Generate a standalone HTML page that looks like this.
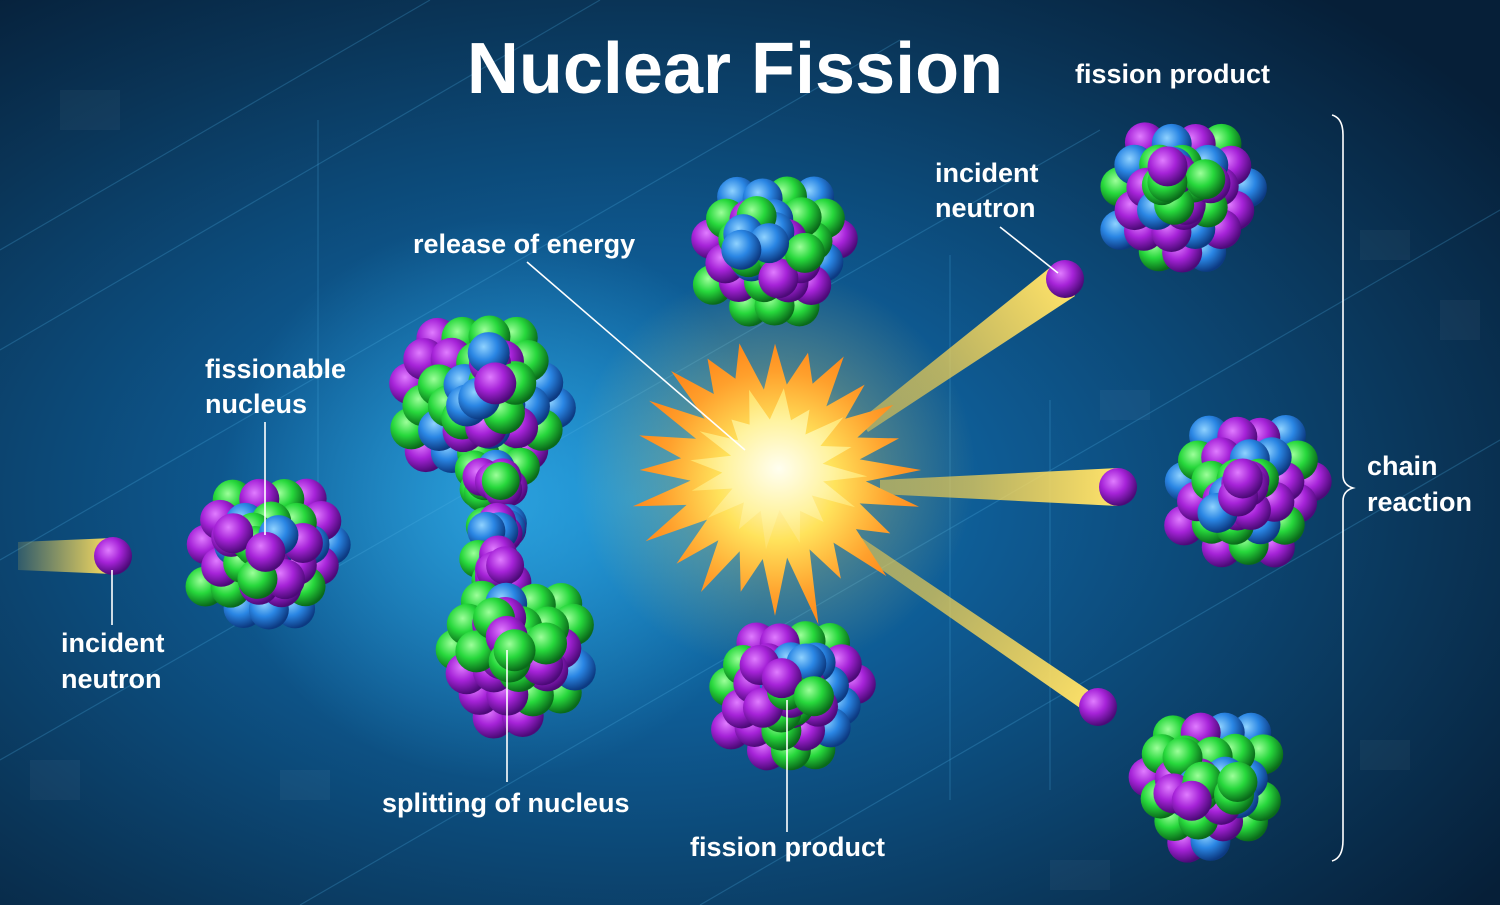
<!DOCTYPE html>
<html><head><meta charset="utf-8"><style>
html,body{margin:0;padding:0;background:#0a2a48;}
svg{display:block}
text{font-family:"Liberation Sans",sans-serif;font-weight:bold;fill:#fff}
</style></head><body>
<svg id="s" width="1500" height="905" viewBox="0 0 1500 905" xmlns="http://www.w3.org/2000/svg">
<defs>
<radialGradient id="bg" cx="0.42" cy="0.55" r="0.72">
<stop offset="0" stop-color="#1380c2"/><stop offset="0.35" stop-color="#0e5a92"/><stop offset="0.75" stop-color="#0a3558"/><stop offset="1" stop-color="#061f38"/></radialGradient>
<radialGradient id="pu" cx="0.38" cy="0.35" r="0.65"><stop offset="0" stop-color="#e07cff"/><stop offset="0.5" stop-color="#a623d8"/><stop offset="1" stop-color="#4c0a78"/></radialGradient>
<radialGradient id="gr" cx="0.38" cy="0.35" r="0.65"><stop offset="0" stop-color="#9dff9a"/><stop offset="0.5" stop-color="#27d83c"/><stop offset="1" stop-color="#0a6a1a"/></radialGradient>
<radialGradient id="bl" cx="0.38" cy="0.35" r="0.65"><stop offset="0" stop-color="#8fd2ff"/><stop offset="0.5" stop-color="#2a86e4"/><stop offset="1" stop-color="#0c3a82"/></radialGradient>
<radialGradient id="glow" cx="0.5" cy="0.5" r="0.5"><stop offset="0" stop-color="#3fc4ff" stop-opacity="0.55"/><stop offset="1" stop-color="#3fc4ff" stop-opacity="0"/></radialGradient>
<radialGradient id="ex" cx="0.5" cy="0.5" r="0.5"><stop offset="0" stop-color="#fffbe0"/><stop offset="0.4" stop-color="#ffe35c"/><stop offset="0.8" stop-color="#ffa02c"/><stop offset="1" stop-color="#ff8a1c"/></radialGradient>
<radialGradient id="ex2" cx="0.5" cy="0.5" r="0.5"><stop offset="0" stop-color="#fffef0"/><stop offset="0.6" stop-color="#fff3a0"/><stop offset="1" stop-color="#ffe066"/></radialGradient>
<radialGradient id="exglow" cx="0.5" cy="0.5" r="0.5"><stop offset="0" stop-color="#fff3a0" stop-opacity="0.8"/><stop offset="0.5" stop-color="#ffd050" stop-opacity="0.25"/><stop offset="1" stop-color="#ffd050" stop-opacity="0"/></radialGradient>
<linearGradient id="beamL" x1="0" x2="1"><stop offset="0" stop-color="#ffd84a" stop-opacity="0.15"/><stop offset="1" stop-color="#ffe060"/></linearGradient>
<linearGradient id="b1" gradientUnits="userSpaceOnUse" x1="860" y1="420" x2="1065" y2="279"><stop offset="0" stop-color="#ffd040" stop-opacity="0.5"/><stop offset="1" stop-color="#ffe36a"/></linearGradient>
<linearGradient id="b2" gradientUnits="userSpaceOnUse" x1="880" y1="487" x2="1118" y2="487"><stop offset="0" stop-color="#ffd040" stop-opacity="0.5"/><stop offset="1" stop-color="#ffe36a"/></linearGradient>
<linearGradient id="b3" gradientUnits="userSpaceOnUse" x1="850" y1="540" x2="1098" y2="707"><stop offset="0" stop-color="#ffd040" stop-opacity="0.5"/><stop offset="1" stop-color="#ffe36a"/></linearGradient>
</defs>
<rect width="1500" height="905" fill="url(#bg)"/>
<g fill="#ffffff" opacity="0.04">
<rect x="60" y="90" width="60" height="40"/><rect x="1360" y="230" width="50" height="30"/><rect x="1440" y="300" width="40" height="40"/><rect x="1100" y="390" width="50" height="30"/><rect x="1360" y="740" width="50" height="30"/><rect x="280" y="770" width="50" height="30"/><rect x="1050" y="860" width="60" height="30"/><rect x="30" y="760" width="50" height="40"/>
</g>
<circle cx="500" cy="500" r="280" fill="url(#glow)"/>
<g stroke="#4fb3e8" stroke-opacity="0.25" stroke-width="1.2">
<line x1="0" y1="350" x2="600" y2="0"/><line x1="0" y1="560" x2="900" y2="40"/><line x1="0" y1="760" x2="1100" y2="130"/>
<line x1="300" y1="905" x2="1500" y2="210"/><line x1="700" y1="905" x2="1500" y2="440"/><line x1="0" y1="250" x2="430" y2="0"/>
<polyline points="318,120 318,520" fill="none"/><polyline points="950,255 950,800" fill="none"/><polyline points="1050,400 1050,790" fill="none"/>
</g>
<g>
<polygon points="18,542 113,538 113,574 18,570" fill="url(#beamL)"/>
<polygon points="860,420 1052,266 1075,296 868,432" fill="url(#b1)"/>
<polygon points="880,480 1118,468 1118,506 880,494" fill="url(#b2)"/>
<polygon points="850,530 1088,690 1103,724 842,542" fill="url(#b3)"/>
</g>
<circle cx="775" cy="470" r="200" fill="url(#exglow)"/>
<polygon id="star" fill="url(#ex)"/>
<polygon id="star2" fill="url(#ex2)"/>
<g id="atoms"></g>
<g stroke="#fff" stroke-width="1.6" fill="none">
<line x1="265" y1="422" x2="265" y2="535"/>
<line x1="112" y1="570" x2="112" y2="625"/>
<line x1="527" y1="262" x2="745" y2="450"/>
<line x1="1000" y1="227" x2="1058" y2="273"/>
<line x1="507" y1="650" x2="507" y2="782"/>
<line x1="787" y1="700" x2="787" y2="832"/>
<path d="M1332,115 Q1343,118 1343,135 L1343,475 Q1343,485 1353,488 Q1343,491 1343,501 L1343,840 Q1343,858 1332,861"/>
</g>
<text x="735" y="93" font-size="72" text-anchor="middle">Nuclear Fission</text>
<g font-size="27">
<text x="1075" y="83">fission product</text>
<text x="935" y="182">incident</text><text x="935" y="217">neutron</text>
<text x="413" y="253">release of energy</text>
<text x="205" y="378">fissionable</text><text x="205" y="413">nucleus</text>
<text x="61" y="652">incident</text><text x="61" y="688">neutron</text>
<text x="382" y="812">splitting of nucleus</text>
<text x="690" y="856">fission product</text>
<text x="1367" y="475">chain</text><text x="1367" y="511">reaction</text>
</g>
</svg>
<script>
(function(){
var ns="http://www.w3.org/2000/svg";
var seed=11;function rnd(){seed=(seed*16807)%2147483647;return seed/2147483647;}
var g=document.getElementById("atoms");
function sphere(x,y,r,c){var e=document.createElementNS(ns,"circle");e.setAttribute("cx",x);e.setAttribute("cy",y);e.setAttribute("r",r);e.setAttribute("fill","url(#"+c+")");g.appendChild(e);}
var cols=["pu","gr","bl","pu","gr"];
function cluster(cx,cy,R,sr,rx,ry){
 rx=rx||1;ry=ry||1;var pts=[];var step=sr*1.25;
 for(var y=-R;y<=R;y+=step*0.87){var row=Math.round((y+R)/(step*0.87));for(var x=-R+(row%2?step/2:0);x<=R;x+=step){
  if(x*x+y*y<=R*R){pts.push([x,y]);}}}
 pts.sort(function(a,b){return (a[0]*a[0]+a[1]*a[1])<(b[0]*b[0]+b[1]*b[1])?1:-1;});
 pts.forEach(function(p){sphere(cx+p[0]*rx+(rnd()-0.5)*4,cy+p[1]*ry+(rnd()-0.5)*4,sr,cols[Math.floor(rnd()*5)]);});
 for(var i=0;i<10;i++){var a=rnd()*6.28,d=rnd()*R*0.55;sphere(cx+Math.cos(a)*d*rx,cy+Math.sin(a)*d*ry,sr,cols[Math.floor(rnd()*5)]);}
}
cluster(265,548,70,20);
cluster(478,395,80,21);
cluster(492,480,32,19);
cluster(498,530,26,19);
cluster(495,570,30,19);
cluster(512,650,70,21);
cluster(770,245,70,20);
cluster(787,690,70,20);
cluster(1178,192,70,20);
cluster(1243,485,70,20);
cluster(1205,780,68,20);
sphere(113,556,19,"pu");sphere(1065,279,19,"pu");sphere(1118,487,19,"pu");sphere(1098,707,19,"pu");
var s=document.getElementById("star"),pp=[],n=24;
for(var i=0;i<n*2;i++){var a=i/(n*2)*Math.PI*2;var r=i%2?80+rnd()*20:115+rnd()*45;pp.push((775+Math.cos(a)*r*1.05).toFixed(1)+","+(470+Math.sin(a)*r).toFixed(1));}
s.setAttribute("points",pp.join(" "));
var s2=document.getElementById("star2");pp=[];n=16;
for(var i=0;i<n*2;i++){var a=i/(n*2)*Math.PI*2+0.1;var r=i%2?40+rnd()*10:60+rnd()*25;pp.push((775+Math.cos(a)*r*1.1).toFixed(1)+","+(468+Math.sin(a)*r).toFixed(1));}
s2.setAttribute("points",pp.join(" "));
})();
</script>
</body></html>
